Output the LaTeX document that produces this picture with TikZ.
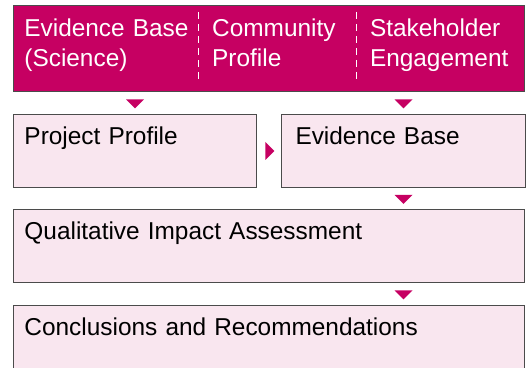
\documentclass[tikz,border=0pt]{standalone}
\usepackage{fontspec}
\setmainfont{Liberation Sans}
\usepackage{xcolor}
\usetikzlibrary{positioning, shapes.geometric}

\definecolor{berry}{RGB}{198,0,98}
\definecolor{blush}{RGB}{249,230,239}
\definecolor{rim}{RGB}{75,75,75}

\tikzset{
  band/.style={draw=rim, line width=0.5pt, fill=berry, minimum width=255.5pt, minimum height=43pt, inner sep=0pt},
  head/.style={text=white, inner ysep=0pt, text height=15.75pt, text depth=27.25pt, align=left, font=\fontsize{12.2}{14.75}\selectfont},
  stage/.style={draw=rim, line width=0.5pt, fill=blush, inner ysep=0pt, text height=15pt, text depth=21.5pt, align=left, font=\fontsize{12.2}{15}\selectfont},
  divider/.style={white, line width=0.6pt, dash pattern=on 3.5pt off 2.5pt, shorten <=3.5pt, shorten >=5pt},
  pointer/.style={isosceles triangle, isosceles triangle stretches, fill=berry, inner sep=0pt},
  pointer down/.style={pointer, shape border rotate=270, minimum width=9pt, minimum height=4.5pt},
  pointer right/.style={pointer down, rotate=90}
}

\begin{document}
\begin{tikzpicture}
\clip (0,0) rectangle (265pt,184pt);
\node[band, anchor=north west] (band) at (6.5pt,181.5pt) {};
\node[head, text width=81.5pt, inner xsep=5.5pt, below right=0pt and 0pt of band.north west] (science) {Evidence~Base\\(Science)};
\node[head, text width=65.5pt, inner xsep=6.5pt, right=0pt of science] (community) {Community\\Profile};
\node[head, text width=71.5pt, inner xsep=6.5pt, right=0pt of community] (stakeholder) {Stakeholder\\Engagement};
\draw[divider] (science.north east) -- (science.south east);
\draw[divider] (community.north east) -- (community.south east);

\node[stage, text width=110.5pt, inner xsep=5.5pt, below right=11pt and 0pt of band.south west] (project) {Project Profile};
\node[stage, text width=108pt, inner xsep=7pt, right=12pt of project] (evidence) {Evidence Base};
\node[stage, text width=244.5pt, inner xsep=5.5pt, below right=10.5pt and 0pt of project.south west] (impact) {Qualitative Impact Assessment};
\node[stage, text width=244.5pt, inner xsep=5.5pt, below right=11pt and 0pt of impact.south west] (conclusions) {Conclusions and Recommendations};

\path (project.north |- band.south) -- node[pointer down] {} (project.north);
\path (evidence.north |- band.south) -- node[pointer down] {} (evidence.north);
\path (project.east) -- node[pointer right] {} (evidence.west);
\path (evidence.south) -- node[pointer down] {} (evidence.south |- impact.north);
\path (evidence.south |- impact.south) -- node[pointer down] {} (evidence.south |- conclusions.north);
\end{tikzpicture}
\end{document}
